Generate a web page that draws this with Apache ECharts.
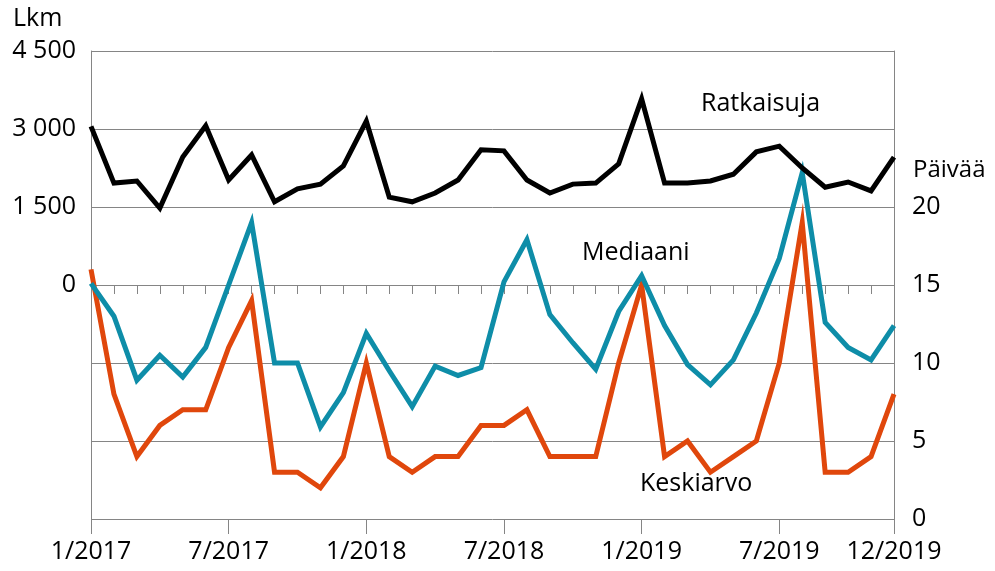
<!DOCTYPE html>
<html>
<head>
<meta charset="utf-8">
<script src="https://cdn.jsdelivr.net/npm/echarts@6/dist/echarts.min.js"></script>
<style>
  html, body { margin: 0; padding: 0; background: #fff; }
  #chart { width: 995px; height: 571px; }
</style>
</head>
<body>
<div id="chart"></div>
<script>
const months = [
  '1/2017', '2/2017', '3/2017', '4/2017', '5/2017', '6/2017', '7/2017', '8/2017', '9/2017', '10/2017', '11/2017', '12/2017',
  '1/2018', '2/2018', '3/2018', '4/2018', '5/2018', '6/2018', '7/2018', '8/2018', '9/2018', '10/2018', '11/2018', '12/2018',
  '1/2019', '2/2019', '3/2019', '4/2019', '5/2019', '6/2019', '7/2019', '8/2019', '9/2019', '10/2019', '11/2019', '12/2019'
];
const tickLabels = ['1/2017', '7/2017', '1/2018', '7/2018', '1/2019', '7/2019', '12/2019'];

// Ratkaisuja (Lkm, left axis)
const ratkaisuja = [
  3050, 1960, 2000, 1480, 2460, 3060, 2020, 2500, 1600, 1850, 1940, 2290,
  3150, 1690, 1600, 1770, 2020, 2600, 2580, 2020, 1770, 1940, 1960, 2330,
  3580, 1960, 1960, 2000, 2130, 2560, 2670, 2250, 1880, 1980, 1810, 2460
];
// Mediaani (Päivää, right axis)
const mediaani = [
  15.1, 13.0, 8.9, 10.5, 9.1, 11.0, 15.0, 19.0, 10.0, 10.0, 5.9, 8.1,
  11.9, 9.5, 7.2, 9.8, 9.2, 9.7, 15.2, 17.9, 13.1, 11.3, 9.6, 13.3,
  15.6, 12.4, 9.9, 8.6, 10.2, 13.2, 16.7, 22.2, 12.6, 11.0, 10.2, 12.4
];
// Keskiarvo (Päivää, right axis)
const keskiarvo = [
  16, 8, 4, 6, 7, 7, 11, 14, 3, 3, 2, 4,
  10, 4, 3, 4, 4, 6, 6, 7, 4, 4, 4, 10,
  15, 4, 5, 3, 4, 5, 10, 19, 3, 3, 4, 8
];

const font = 'Open Sans';
const gray = '#858585';

const myChart = echarts.init(document.getElementById('chart'));
myChart.setOption({
  animation: false,
  grid: { left: 91, right: 101, top: 51, bottom: 52 },
  xAxis: [
    {
      type: 'category',
      data: months,
      boundaryGap: false,
      axisLine: { lineStyle: { color: gray, width: 1 } },
      axisTick: { interval: 0, length: 9, lineStyle: { color: gray } },
      axisLabel: {
        interval: (i, v) => tickLabels.includes(v),
        color: '#000', fontFamily: font, fontSize: 25, margin: 20
      },
      splitLine: { show: false }
    },
    {
      type: 'category',
      data: months,
      position: 'bottom',
      boundaryGap: false,
      axisLine: { show: false },
      axisTick: { interval: (i, v) => tickLabels.includes(v), length: 15, lineStyle: { color: gray } },
      axisLabel: { show: false },
      splitLine: { show: false }
    }
  ],
  yAxis: [
    {
      type: 'value',
      min: -4500, max: 4500, interval: 1500,
      axisLine: { show: true, lineStyle: { color: gray } },
      axisTick: { show: false },
      splitLine: { lineStyle: { color: gray, width: 1 } },
      axisLabel: {
        color: '#000', fontFamily: font, fontSize: 25, margin: 15,
        formatter: v => v < 0 ? '' : String(v).replace(/\B(?=(\d{3})+(?!\d))/g, ' ')
      }
    },
    {
      type: 'value',
      min: 0, max: 30, interval: 5,
      position: 'right',
      axisLine: { show: true, lineStyle: { color: gray } },
      axisTick: { show: false },
      splitLine: { show: false },
      axisLabel: {
        color: '#000', fontFamily: font, fontSize: 25, margin: 18,
        formatter: v => v > 20 ? '' : String(v)
      }
    }
  ],
  series: [
    {
      name: 'Keskiarvo',
      type: 'line',
      yAxisIndex: 1,
      data: keskiarvo,
      showSymbol: false,
      lineStyle: { color: '#E0470C', width: 5, join: 'miter' }
    },
    {
      name: 'Mediaani',
      type: 'line',
      yAxisIndex: 1,
      data: mediaani,
      showSymbol: false,
      lineStyle: { color: '#0E8DA8', width: 5, join: 'miter' }
    },
    {
      name: 'Ratkaisuja',
      type: 'line',
      yAxisIndex: 0,
      data: ratkaisuja,
      showSymbol: false,
      lineStyle: { color: '#000', width: 5, join: 'miter' }
    }
  ],
  graphic: [
    { type: 'text', left: 13, top: 6, style: { text: 'Lkm', font: `25px "${font}"`, fill: '#000' } },
    { type: 'text', left: 913, top: 158, style: { text: 'Päivää', font: `24px "${font}"`, fill: '#000' } },
    { type: 'text', left: 701, top: 91, style: { text: 'Ratkaisuja', font: `25px "${font}"`, fill: '#000' } },
    { type: 'text', left: 582, top: 240, style: { text: 'Mediaani', font: `25px "${font}"`, fill: '#000' } },
    { type: 'text', left: 640, top: 471, style: { text: 'Keskiarvo', font: `25px "${font}"`, fill: '#000' } }
  ]
});
</script>
</body>
</html>
